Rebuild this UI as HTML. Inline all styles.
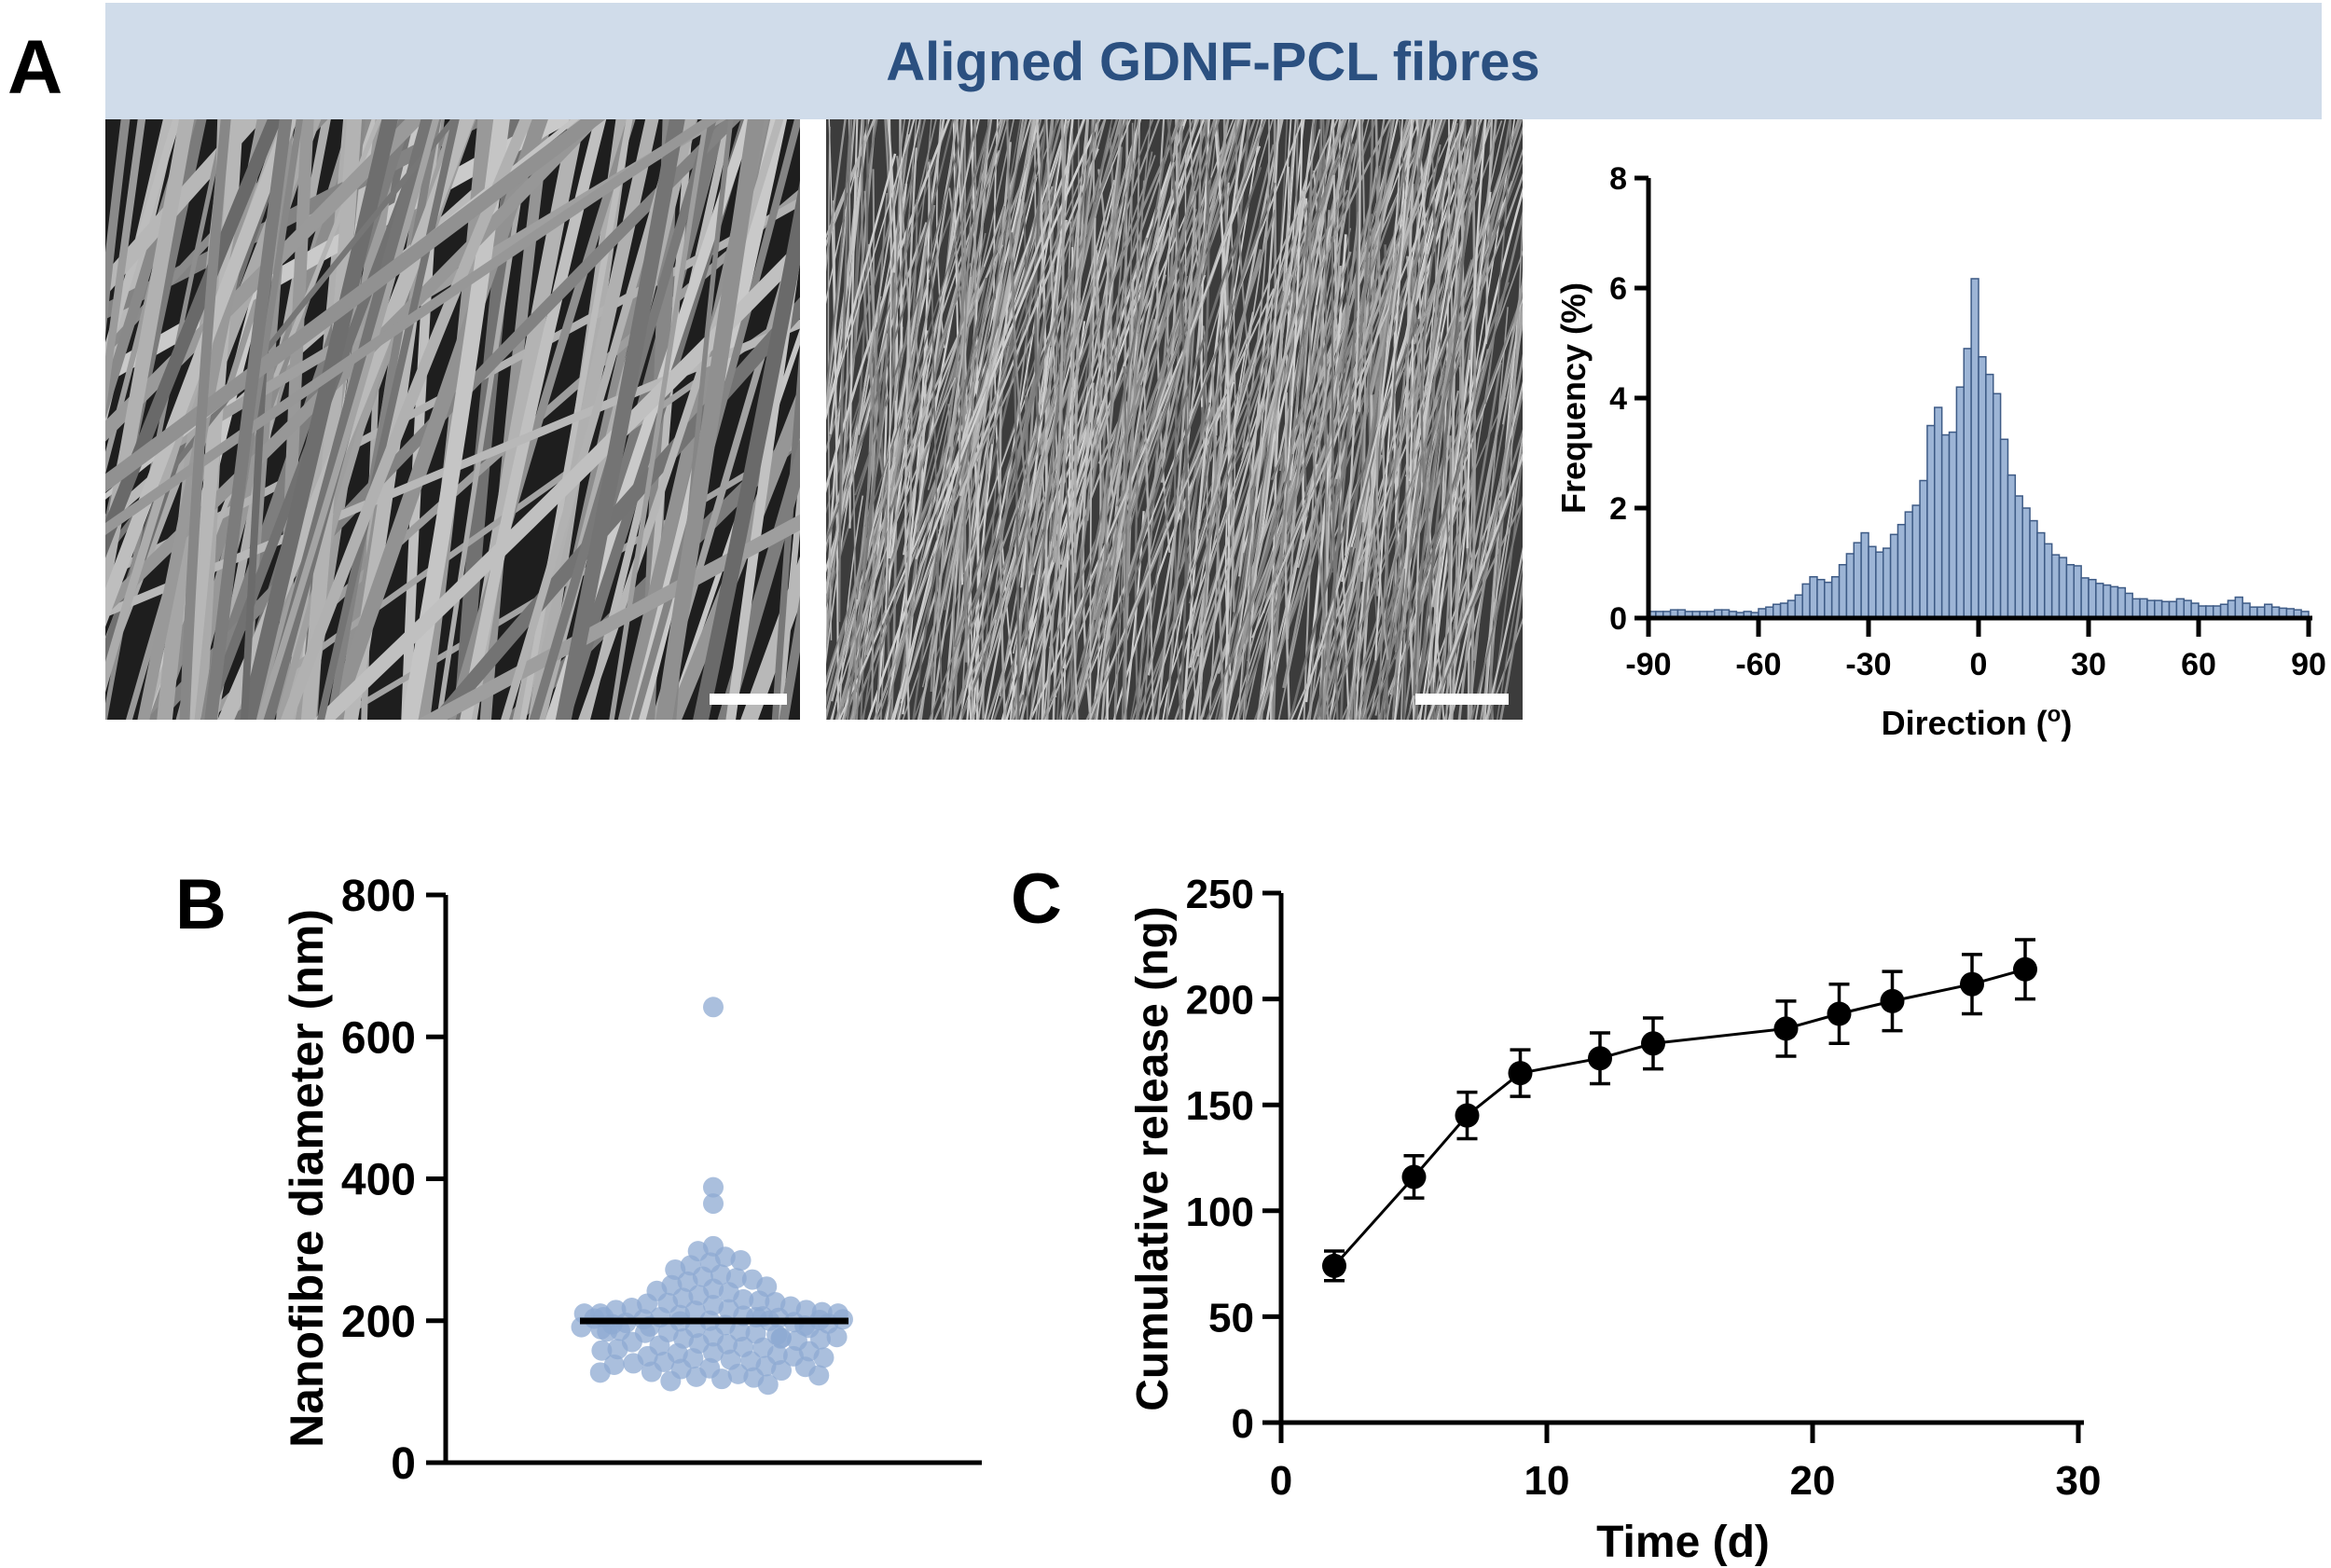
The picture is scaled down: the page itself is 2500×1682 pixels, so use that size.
<!DOCTYPE html>
<html><head><meta charset="utf-8">
<style>
html,body{margin:0;padding:0;background:#fff;}
svg{display:block;}
text{font-family:"Liberation Sans",Arial,sans-serif;font-weight:bold;fill:#000;}
.tick{font-family:"Liberation Sans Narrow","Liberation Sans",sans-serif;}
</style></head>
<body>
<svg id="fig" width="2500" height="1682" viewBox="0 0 2500 1682" xmlns="http://www.w3.org/2000/svg">
<defs>
<clipPath id="c1"><rect x="113" y="128" width="745" height="644"/></clipPath>
<clipPath id="c2"><rect x="886" y="128" width="747" height="644"/></clipPath>
</defs>
<text x="8" y="100" font-size="82">A</text>
<rect x="113" y="3" width="2377" height="125" fill="#d0dcea"/>
<text x="1301" y="86" font-size="58" text-anchor="middle" style="fill:#2b5080">Aligned GDNF-PCL fibres</text>
<g clip-path="url(#c1)"><rect x="113" y="128" width="745" height="644" fill="#1e1e1e"/><g id="sem1"></g></g>
<g clip-path="url(#c2)"><rect x="886" y="128" width="747" height="644" fill="#3c3c3c"/><g id="sem2"></g></g>
<rect x="761" y="744" width="83" height="12" fill="#fff"/>
<rect x="1518" y="744" width="100" height="12" fill="#fff"/>
<g id="hist"></g>
<text x="188" y="996" font-size="76">B</text>
<g id="swarm"></g>
<text x="1084" y="990" font-size="76">C</text>
<g id="release"></g>
</svg>
<script>
// ---- data ----
const histBinStart = -90;
const histBinWidth = 2;
const histValues = [0.12,0.12,0.12,0.15,0.15,0.12,0.12,0.12,0.12,0.15,0.15,0.12,0.1,0.12,0.1,0.17,
 0.2,0.25,0.27,0.32,0.42,0.62,0.75,0.7,0.65,0.75,0.97,1.17,1.37,1.55,
 1.3,1.2,1.27,1.52,1.7,1.93,2.05,2.5,3.5,3.83,3.33,3.38,4.2,4.9,6.17,
 4.75,4.43,4.08,3.25,2.6,2.22,2.0,1.77,1.55,1.35,1.15,1.1,0.97,0.95,0.73,
 0.7,0.63,0.6,0.57,0.55,0.45,0.35,0.35,0.32,0.32,0.3,0.3,0.35,0.32,0.27,
 0.22,0.22,0.22,0.25,0.32,0.38,0.27,0.2,0.2,0.25,0.2,0.18,0.17,0.15,0.12];
const histXTicks = [-90,-60,-30,0,30,60,90];
const histYTicks = [0,2,4,6,8];

const diameters = [642,388,365,305,298,290,285,282,278,272,265,262,260,258,255,250,248,245,242,240,236,232,230,228,226,224,222,220,218,216,215,214,212,210,210,208,207,206,205,205,204,203,202,202,201,200,200,199,198,197,196,195,194,193,192,191,190,188,186,185,184,183,182,180,178,177,176,175,174,172,170,168,167,165,163,162,160,158,157,155,154,152,150,148,147,145,143,142,140,138,136,135,133,132,130,128,127,125,123,121,120,118,115,110,190,205,210,175,185,215,225,150];
const diamYTicks = [0,200,400,600,800];

const timeDays = [2,5,7,9,12,14,19,21,23,26,28];
const releaseMean = [74,116,145,165,172,179,186,193,199,207,214];
const releaseErr = [7,10,11,11,12,12,13,14,14,14,14];
const releaseXTicks = [0,10,20,30];
const releaseYTicks = [0,50,100,150,200,250];

const NS='http://www.w3.org/2000/svg';
function mk(parent,tag,attrs,txt){const e=document.createElementNS(NS,tag);for(const k in attrs)e.setAttribute(k,attrs[k]);if(txt!==undefined)e.textContent=txt;parent.appendChild(e);return e;}

// ---- SEM textures (decorative) ----
let seed=12345;function rnd(){seed=(seed*1103515245+12345)%2147483648;return seed/2147483648;}
(function(){
 const g1=document.getElementById('sem1');
 for(let i=0;i<120;i++){
  const steep=rnd()<0.8;
  const ang=steep?(68+rnd()*20):(20+rnd()*35);
  const a=ang*Math.PI/180;
  const cx=113+rnd()*745, cy=128+rnd()*644, L=900;
  const dx=Math.cos(a)*L, dy=-Math.sin(a)*L;
  const bend=(rnd()-0.5)*140;
  const w=5+rnd()*13; const c=Math.floor(105+rnd()*100);
  const p=mk(g1,'path',{d:`M${cx-dx} ${cy-dy} Q${cx+bend} ${cy} ${cx+dx} ${cy+dy}`,stroke:`rgb(${c},${c},${c})`,'stroke-width':w,fill:'none'});
  
  
 }
 const g2=document.getElementById('sem2');
 for(let i=0;i<600;i++){
  const ang=(68+rnd()*24)*Math.PI/180;
  const cx=886+rnd()*747, cy=128+rnd()*644, L=200+rnd()*300;
  const dx=Math.cos(ang)*L, dy=-Math.sin(ang)*L;
  const bend=(rnd()-0.5)*80;
  const c=Math.floor(110+rnd()*100);
  const p=mk(g2,'path',{d:`M${cx-dx} ${cy-dy} Q${cx+bend} ${cy} ${cx+dx} ${cy+dy}`,stroke:`rgb(${c},${c},${c})`,'stroke-width':1.4+rnd()*1.4,fill:'none'});
  
  
 }
})();

// ---- Histogram ----
(function(){
 const g=document.getElementById('hist');
 const X=v=>1768+(v+90)/180*708, Y=v=>663-v/8*472;
 histValues.forEach((v,i)=>{
  const x0=X(histBinStart+i*histBinWidth), x1=X(histBinStart+(i+1)*histBinWidth);
  const r=mk(g,'rect',{x:x0,y:Y(v),width:x1-x0,height:Y(0)-Y(v),fill:'#9db5d6',stroke:'#3e5b86','stroke-width':1.5});
  
  
 });
 const ax=mk(g,'path',{d:`M1768 ${Y(8)} V${Y(0)} H${X(90)+4}`,stroke:'#000','stroke-width':5,fill:'none'});
 
 
 histYTicks.forEach(t=>{
  mk(g,'line',{x1:1753,x2:1768,y1:Y(t),y2:Y(t),stroke:'#000','stroke-width':5});
  const tx=mk(g,'text',{x:1745,y:Y(t)+12,'font-size':34,'text-anchor':'end',class:'tick'},String(t));
  
  
 });
 histXTicks.forEach(t=>{
  mk(g,'line',{x1:X(t),x2:X(t),y1:663,y2:683,stroke:'#000','stroke-width':5});
  const tx=mk(g,'text',{x:X(t),y:724,'font-size':34,'text-anchor':'middle',class:'tick'},String(t));
  
  
 });
 const xl=mk(g,'text',{x:2120,y:788,'font-size':36,'text-anchor':'middle'});
 xl.innerHTML='Direction (<tspan dy="-14" font-size="24">o</tspan><tspan dy="14">)</tspan>';
 
 
 const yl=mk(g,'text',{x:0,y:0,'font-size':36,'text-anchor':'middle',transform:'translate(1700 427) rotate(-90)'},'Frequency (%)');
 
 
})();

// ---- Beeswarm ----
(function(){
 const g=document.getElementById('swarm');
 const Y=v=>1569-v/800*609, cx=765, r=11, maxW=143, f=0.78;
 const placed=[];
 const sorted=diameters.slice().sort((a,b)=>b-a);
 sorted.forEach(v=>{
  const y=Y(v);
  const cands=[0];
  placed.forEach(p=>{const dy=Math.abs(p.y-y);if(dy<2*r*f){const w=Math.sqrt((2*r*f)**2-dy*dy);cands.push(p.x-w,p.x+w);}});
  cands.sort((a,b)=>Math.abs(a)-Math.abs(b));
  let best=null;
  for(const c of cands){if(Math.abs(c)>maxW)break;let ok=true;for(const p of placed){const dy=p.y-y,dx=p.x-c;if(dx*dx+dy*dy<(2*r*f)**2-0.01){ok=false;break;}}if(ok){best=c;break;}}
  if(best===null){best=(rnd()*2-1)*maxW;}
  placed.push({x:best,y});
 });
 placed.forEach(p=>{
  const c=mk(g,'circle',{cx:cx+p.x,cy:p.y,r:r,fill:'#8eaad2','fill-opacity':0.75});
  
  
 });
 const mean=diameters.reduce((a,b)=>a+b,0)/diameters.length;
 const ml=mk(g,'line',{x1:622,x2:910,y1:Y(mean),y2:Y(mean),stroke:'#000','stroke-width':7});
 
 
 const ax=mk(g,'path',{d:`M478 ${Y(800)} V1569 H1053`,stroke:'#000','stroke-width':5,fill:'none'});
 
 
 diamYTicks.forEach(t=>{
  mk(g,'line',{x1:457,x2:478,y1:Y(t),y2:Y(t),stroke:'#000','stroke-width':5});
  const tx=mk(g,'text',{x:446,y:Y(t)+17,'font-size':48,'text-anchor':'end',class:'tick'},String(t));
  
  
 });
 const yl=mk(g,'text',{x:0,y:0,'font-size':50,'text-anchor':'middle',transform:'translate(346 1264) rotate(-90)'},'Nanofibre diameter (nm)');
 
 
})();

// ---- Release curve ----
(function(){
 const g=document.getElementById('release');
 const X=v=>1374+v/30*855, Y=v=>1526-v/250*568;
 const ax=mk(g,'path',{d:`M1374 ${Y(250)} V1526 H${X(30)+6}`,stroke:'#000','stroke-width':5,fill:'none'});
 
 
 releaseYTicks.forEach(t=>{
  mk(g,'line',{x1:1354,x2:1374,y1:Y(t),y2:Y(t),stroke:'#000','stroke-width':5});
  const tx=mk(g,'text',{x:1345,y:Y(t)+16,'font-size':44,'text-anchor':'end',class:'tick'},String(t));
  
  
 });
 releaseXTicks.forEach(t=>{
  mk(g,'line',{x1:X(t),x2:X(t),y1:1526,y2:1548,stroke:'#000','stroke-width':5});
  const tx=mk(g,'text',{x:X(t),y:1603,'font-size':44,'text-anchor':'middle',class:'tick'},String(t));
  
  
 });
 const pts=timeDays.map((t,i)=>`${X(t)},${Y(releaseMean[i])}`).join(' ');
 const pl=mk(g,'polyline',{points:pts,fill:'none',stroke:'#000','stroke-width':3});
 
 
 timeDays.forEach((t,i)=>{
  const x=X(t), yt=Y(releaseMean[i]+releaseErr[i]), yb=Y(releaseMean[i]-releaseErr[i]);
  const e=mk(g,'path',{d:`M${x} ${yt} V${yb} M${x-11} ${yt} H${x+11} M${x-11} ${yb} H${x+11}`,stroke:'#000','stroke-width':3.5,fill:'none'});
  
  
  const c=mk(g,'circle',{cx:x,cy:Y(releaseMean[i]),r:13,fill:'#000'});
  
  
 });
 const xl=mk(g,'text',{x:1805,y:1670,'font-size':48,'text-anchor':'middle'},'Time (d)');
 
 
 const yl=mk(g,'text',{x:0,y:0,'font-size':48,'text-anchor':'middle',transform:'translate(1252 1243) rotate(-90)'},'Cumulative release (ng)');
 
 
})();
</script>
</body></html>
